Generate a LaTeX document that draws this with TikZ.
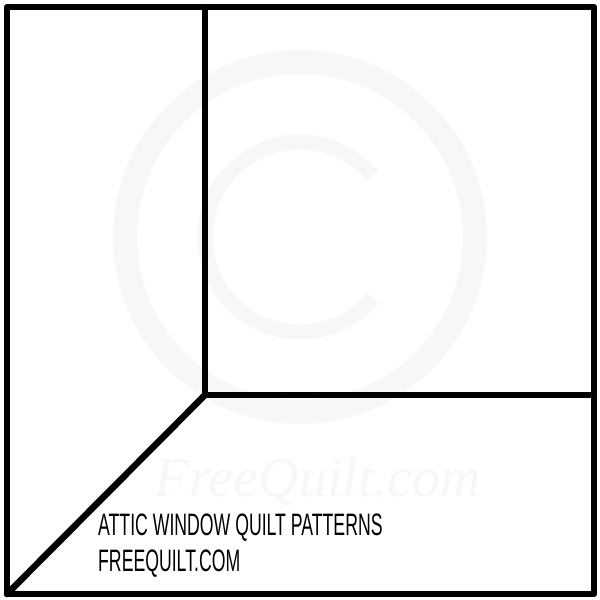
\documentclass[tikz,border=0pt]{standalone}
\usepackage{fontspec}
\newfontfamily\labelfont[FakeStretch=0.57]{Liberation Sans}
\newfontfamily\markfont{Liberation Serif}
\begin{document}
\begin{tikzpicture}[x=1pt,y=-1pt,
  seam/.style={line width=6.5pt,black,line cap=round,line join=round},
  watermark/.style={black!3},
  caption/.style={anchor=south west,inner sep=0pt,font=\labelfont\fontsize{31}{31}\selectfont}]
\useasboundingbox[fill=white] (0,0) rectangle (600,600);
% faint watermark
\draw[watermark,line width=24pt] (300,237) circle (175);
\draw[watermark,line width=15pt] (300,237) ++(40:95) arc[start angle=40,end angle=320,radius=95];
\node[watermark,font=\markfont\itshape\fontsize{56}{56}\selectfont,inner sep=0pt] (wm) at (318,482) {FreeQuilt.com};
% block
\coordinate (tl) at (7,7);
\coordinate (br) at (594,594);
\coordinate (bl) at (7,594);
\coordinate (vt) at (205,7);
\coordinate (c) at (205,395);
\coordinate (hr) at (594,395);
\draw[seam] (tl) rectangle (br);
\draw[seam] (vt) -- (c) -- (hr);
\draw[seam] (c) -- (bl);
% caption
\node[caption] (t1) at (98,542) {ATTIC WINDOW QUILT PATTERNS};
\node[caption] (t2) at (98,578) {FREEQUILT.COM};
\end{tikzpicture}
\end{document}
